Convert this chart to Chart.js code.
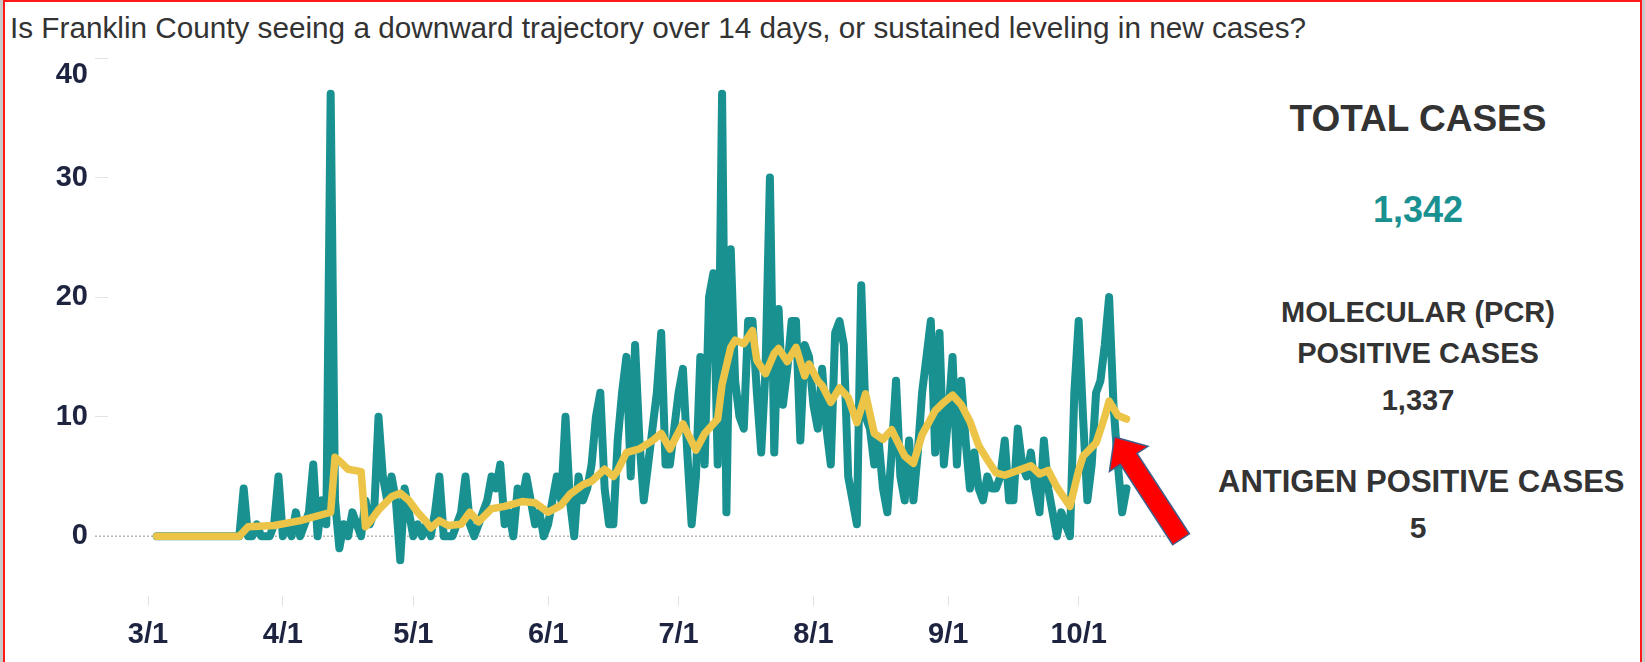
<!DOCTYPE html>
<html>
<head>
<meta charset="utf-8">
<script src="https://cdn.jsdelivr.net/npm/chart.js@4.4.0/dist/chart.umd.min.js"></script>
<style>
    body { margin: 0; width: 1645px; height: 662px; background: #c9c9c9; overflow: hidden; position: relative; font-family: 'Liberation Sans', Arial, sans-serif; }
    #frame { position: absolute; left: 3px; top: 0; width: 1639px; height: 662px; box-sizing: border-box; background: #fff; border: 2px solid #ff1a1a; border-bottom: none; }
    #title { position: absolute; left: 10px; top: 10px; font-size: 30px; line-height: 36px; color: #333; white-space: nowrap; transform-origin: 0 50%; }
    #chartCanvas { position: absolute; left: 0; top: 0; }
    .panel { position: absolute; left: 1218px; width: 400px; height: 44px; line-height: 44px; text-align: center; font-weight: bold; color: #333; white-space: nowrap; }
</style>
</head>
<body>
<div id="frame"></div>
<div id="title">Is Franklin County seeing a downward trajectory over 14 days, or sustained leveling in new cases?</div>
<canvas id="chartCanvas" width="1200" height="662"></canvas>
<div class="panel" style="top:97px;font-size:37px;">TOTAL CASES</div>
<div class="panel" style="top:188px;font-size:36px;color:#1a9191;">1,342</div>
<div class="panel" style="top:290px;font-size:29px;">MOLECULAR (PCR)</div>
<div class="panel" style="top:331px;font-size:29px;">POSITIVE CASES</div>
<div class="panel" style="top:378px;font-size:29px;">1,337</div>
<div class="panel" style="top:460px;font-size:31px;">ANTIGEN POSITIVE CASES</div>
<div class="panel" style="top:506px;font-size:30px;">5</div>
<script>
// x values are days since 3/1
const monthDays = [0, 31, 61, 92, 122, 153, 184, 214];
const monthLabels = ['3/1', '4/1', '5/1', '6/1', '7/1', '8/1', '9/1', '10/1'];
const yTicks = [0, 10, 20, 30, 40];

// daily new cases, first value is 3/3
const firstDay = 2;
const dailyCases = [
    0, 0, 0, 0, 0, 0, 0, 0, 0, 0, 0, 0, 0, 0, 0, 0, 0, 0, 0, 0,          // 3/3 - 3/22
    4, 0, 0, 1, 0, 0, 0, 1, 5, 0, 1, 0, 2, 0, 1, 2, 6, 0, 3, 1,          // 3/23 - 4/11
    37, 3, -1, 1, 0, 2, 1, 0, 3, 1, 2, 10, 5, 3, 5, 3, -2, 4, 2, 0,      // 4/12 - 5/1
    1, 0, 1, 0, 2, 5, 0, 0, 0, 1, 2, 5, 1, 0, 1, 2, 3, 5, 4, 6,          // 5/2 - 5/21
    1, 2, 0, 4, 3, 5, 3, 1, 2, 0, 1, 3, 5, 3, 10, 3, 0, 5, 3, 4,         // 5/22 - 6/10
    6, 10, 12, 4, 1, 1, 8, 12, 15, 5, 16, 8, 3, 6, 9, 12, 17, 6, 6, 9,   // 6/11 - 6/30
    12, 14, 7, 1, 5, 15, 6, 20, 22, 6, 37, 2, 24, 13, 10, 9, 18, 18, 12, 7, // 7/1 - 7/20
    14, 30, 7, 19, 11, 14, 18, 18, 8, 16, 15, 11, 9, 14, 9, 6, 17, 18, 16, 5, // 7/21 - 8/9
    3, 1, 21, 10, 9, 6, 8, 4, 2, 7, 13, 5, 3, 8, 3, 7, 12, 15, 18, 7,    // 8/10 - 8/29
    17, 6, 10, 15, 6, 13, 8, 4, 7, 4, 3, 5, 4, 4, 5, 8, 3, 3, 9, 6,      // 8/30 - 9/18
    5, 7, 4, 2, 8, 4, 2, 0, 2, 1, 0, 12, 18, 10, 3, 6, 12, 13, 16, 20,   // 9/19 - 10/8
    11, 6, 2, 4                                                          // 10/9 - 10/12
];

// 7-day average, read at its turning points (day since 3/1, value)
const avgDays = [2, 21, 23, 29, 35, 41, 42, 43, 44, 46, 49, 50, 51, 53, 56, 58, 60, 62, 64, 65,
    67, 69, 72, 74, 76, 79, 82, 86, 89, 92, 95, 97, 100, 102, 105, 107, 108, 110, 113, 116,
    118, 120, 123, 126, 128, 131, 132, 134, 135, 137, 139, 140, 142, 144, 145, 147, 149, 151, 152, 154,
    155, 157, 159, 161, 163, 165, 167, 169, 171, 174, 176, 178, 181, 183, 185, 187, 189, 191, 193, 195,
    197, 200, 203, 205, 207, 209, 212, 214, 215, 218, 220, 221, 223, 225];
const avgValues = [0, 0, 0.8, 0.9, 1.3, 1.9, 2.0, 6.6, 6.3, 5.6, 5.4, 0.8, 1.2, 2.2, 3.3, 3.6, 3.0, 2.0, 1.2, 0.7,
    1.3, 0.9, 1.0, 2.0, 1.2, 2.3, 2.5, 2.9, 2.8, 2.0, 2.6, 3.5, 4.3, 4.6, 5.6, 5.0, 5.5, 7.0, 7.3, 8.0,
    8.6, 7.3, 9.4, 7.2, 8.6, 9.8, 12.7, 15.8, 16.4, 16.1, 17.2, 14.7, 13.6, 15.3, 15.7, 14.6, 15.8, 13.4, 14.4, 13.0,
    12.6, 11.2, 12.4, 11.6, 9.5, 11.9, 8.6, 8.1, 8.9, 6.7, 6.1, 8.5, 10.5, 11.2, 11.8, 11.0, 9.6, 7.6, 6.4, 5.3,
    5.1, 5.5, 5.9, 5.2, 5.5, 4.1, 2.5, 5.5, 6.7, 7.8, 10.0, 11.3, 10.1, 9.8];

// stretch the title to the width it has in the original
const title = document.getElementById('title');
title.style.transform = 'scaleX(' + (1296 / title.scrollWidth) + ')';

const tickFont = { family: 'Liberation Sans', size: 29, weight: 'bold' };
const tickColor = '#1e2440';

// dotted line at zero, starting under the y tick marks
const zeroLine = {
    id: 'zeroLine',
    beforeDatasetsDraw(chart) {
        const ctx = chart.ctx;
        const y = chart.scales.y.getPixelForValue(0);
        ctx.save();
        ctx.strokeStyle = '#b5b5b5';
        ctx.lineWidth = 1.5;
        ctx.setLineDash([2, 2]);
        ctx.beginPath();
        ctx.moveTo(chart.chartArea.left - 13, y);
        ctx.lineTo(chart.chartArea.right, y);
        ctx.stroke();
        ctx.restore();
    }
};

// red arrow pointing at the end of the average line
const redArrow = {
    id: 'redArrow',
    afterDatasetsDraw(chart) {
        const pts = chart.getDatasetMeta(1).data;
        const last = pts[pts.length - 1];
        const tipX = last.x - 12, tipY = last.y + 18;
        const ang = Math.atan2(83, 54);
        const len = 122, headLen = 26, headW = 23, shaftW = 10;
        const ctx = chart.ctx;
        ctx.save();
        ctx.translate(tipX, tipY);
        ctx.rotate(ang);
        ctx.beginPath();
        ctx.moveTo(0, 0);
        ctx.lineTo(headLen, -headW);
        ctx.lineTo(headLen, -shaftW);
        ctx.lineTo(len, -shaftW);
        ctx.lineTo(len, shaftW);
        ctx.lineTo(headLen, shaftW);
        ctx.lineTo(headLen, headW);
        ctx.closePath();
        ctx.fillStyle = '#ff0000';
        ctx.fill();
        ctx.strokeStyle = '#3e5f8a';
        ctx.lineWidth = 1.5;
        ctx.stroke();
        ctx.restore();
    }
};

const ctx = document.getElementById('chartCanvas').getContext('2d');
window.myChart = new Chart(ctx, {
    type: 'line',
    data: {
        datasets: [
            {
                label: 'New cases',
                data: dailyCases.map((v, i) => ({ x: firstDay + i, y: v })),
                borderColor: '#1a9191',
                borderWidth: 8,
                order: 2,
            },
            {
                label: '7-day average',
                data: avgDays.map((d, i) => ({ x: d, y: avgValues[i] })),
                borderColor: '#ecc548',
                borderWidth: 7.5,
                order: 1,
            },
        ],
    },
    options: {
        responsive: false,
        animation: false,
        devicePixelRatio: 1,
        layout: { padding: { top: 58, right: 30, left: 0, bottom: 0 } },
        elements: {
            point: { radius: 0 },
            line: { tension: 0, borderJoinStyle: 'round', borderCapStyle: 'round', fill: false },
        },
        plugins: { legend: { display: false }, tooltip: { enabled: false } },
        scales: {
            x: {
                type: 'linear',
                min: -9.2,
                max: 235,
                afterBuildTicks: (scale) => { scale.ticks = monthDays.map(v => ({ value: v })); },
                afterFit: (scale) => { scale.height = 66; },
                grid: { drawOnChartArea: false, tickLength: 10, color: '#e3e3e3' },
                border: { display: false },
                ticks: {
                    autoSkip: false,
                    maxRotation: 0,
                    padding: 12,
                    color: tickColor,
                    font: tickFont,
                    callback: (value) => monthLabels[monthDays.indexOf(value)],
                },
            },
            y: {
                min: -5,
                max: 40,
                afterBuildTicks: (scale) => { scale.ticks = yTicks.map(v => ({ value: v })); },
                afterFit: (scale) => { scale.width = 108; },
                grid: {
                    drawOnChartArea: false,
                    tickLength: 13,
                    color: (c) => (c.tick && c.tick.value === 0 ? 'rgba(0,0,0,0)' : '#e3e3e3'),
                },
                border: { display: false },
                ticks: {
                    padding: 7,
                    color: tickColor,
                    font: tickFont,
                    // the top label sits a little below its tick in the original
                    callback: (value) => (value === 40 ? ['', '40'] : String(value)),
                },
            },
        },
    },
    plugins: [zeroLine, redArrow],
});
</script>
</body>
</html>
